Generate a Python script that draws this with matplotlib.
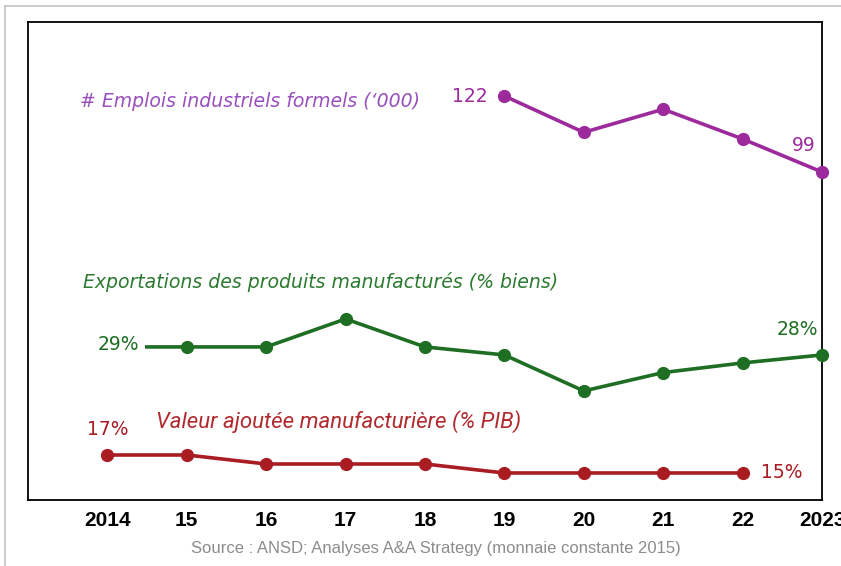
import matplotlib.pyplot as plt
from matplotlib.lines import Line2D

# data
years = [2014, 2015, 2016, 2017, 2018, 2019, 2020, 2021, 2022, 2023]
tick_labels = ['2014', '15', '16', '17', '18', '19', '20', '21', '22', '2023']

emploi_years = [2019, 2020, 2021, 2022, 2023]
emploi = [122, 111, 118, 109, 99]

export_years = [2014, 2015, 2016, 2017, 2018, 2019, 2020, 2021, 2022, 2023]
export = [29, 29, 29, 32.5, 29, 28, 23.5, 25.8, 27, 28]

va_years = [2014, 2015, 2016, 2017, 2018, 2019, 2020, 2021, 2022]
va = [17, 17, 16, 16, 16, 15, 15, 15, 15]

purple = '#9c2a9c'
purple_txt = '#9a4fbf'
green = '#1e6e23'
green_txt = '#2b7a2f'
red = '#a81c22'
red_txt = '#b02a2e'

fig = plt.figure(figsize=(8.41, 5.66), dpi=100)
ax = fig.add_axes([28/841, 1-500/566, 794/841, 478/566])
ax.set_xlim(2013, 2023)
ax.set_yticks([])
ax.set_xticks(years)
ax.set_xticklabels(tick_labels, fontsize=15, fontweight='bold', family='Liberation Sans')
ax.tick_params(axis='x', length=0, pad=8)
for s in ax.spines.values():
    s.set_linewidth(1.3)
    s.set_color('black')

def layer(ylim):
    a = ax.twinx()
    a.set_ylim(*ylim)
    a.set_xlim(2013, 2023)
    a.axis('off')
    return a

# each series has its own vertical scale
ax_e = layer((-0.28, 144.4))
ax_x = layer((9.875, 69.6))
ax_v = layer((12, 65.1))

kw = dict(linewidth=2.6, marker='o', markersize=8.5, clip_on=False)
ax_e.plot(emploi_years, emploi, color=purple, **kw)
ax_x.plot(export_years, export, color=green, markevery=list(range(1, len(export))), **kw)
ax_v.plot(va_years, va, color=red, **kw)

lab = dict(fontsize=13.6, family='DejaVu Sans', style='italic')
num = dict(fontsize=13.5, family='DejaVu Sans')

ax_e.text(0.065, 0.834, '# Emplois industriels formels (\u2018000)', transform=ax.transAxes,
          color=purple_txt, va='center', ha='left', **lab)
ax_e.annotate(str(emploi[0]), (emploi_years[0], emploi[0]), xytext=(-12, 0), textcoords='offset points',
              color=purple, ha='right', va='center', **num)
ax_e.annotate(str(emploi[-1]), (emploi_years[-1], emploi[-1]), xytext=(-13, 19), textcoords='offset points',
              color=purple, ha='center', va='center', **num)

ax_x.text(0.069, 0.456, 'Exportations des produits manufactur\u00e9s (% biens)', transform=ax.transAxes,
          color=green_txt, va='center', ha='left', **lab)
ax_x.annotate('%d%%' % export[0], (export_years[0], export[0]), xytext=(8, 2), textcoords='offset points',
              color=green, ha='center', va='center',
              bbox=dict(boxstyle='square,pad=0.3', fc='white', ec='none'), **num)
ax_x.annotate('%d%%' % export[-1], (export_years[-1], export[-1]), xytext=(-18, 18), textcoords='offset points',
              color=green, ha='center', va='center', **num)

ax_v.text(0.161, 0.165, 'Valeur ajout\u00e9e manufacturi\u00e8re (% PIB)', transform=ax.transAxes,
          color=red_txt, va='center', ha='left', fontsize=16, family='Roboto', style='italic')
ax_v.annotate('%d%%' % va[0], (va_years[0], va[0]), xytext=(0, 18), textcoords='offset points',
              color=red, ha='center', va='center', **num)
ax_v.annotate('%d%%' % va[-1], (va_years[-1], va[-1]), xytext=(28, 0), textcoords='offset points',
              color=red, ha='center', va='center', **num)

fig.text(436/841, 1-549/566, 'Source : ANSD; Analyses A&A Strategy (monnaie constante 2015)',
         ha='center', va='center', fontsize=12, color='#8c8c8c', family='Liberation Sans')

# outer slide frame
fig.add_artist(Line2D([5/841, 1], [1-6/566, 1-6/566], color='#c4c4c4', lw=1.2))
fig.add_artist(Line2D([5/841, 5/841], [1-6/566, 0], color='#c4c4c4', lw=1.2))

fig.savefig('out.png', dpi=100)
